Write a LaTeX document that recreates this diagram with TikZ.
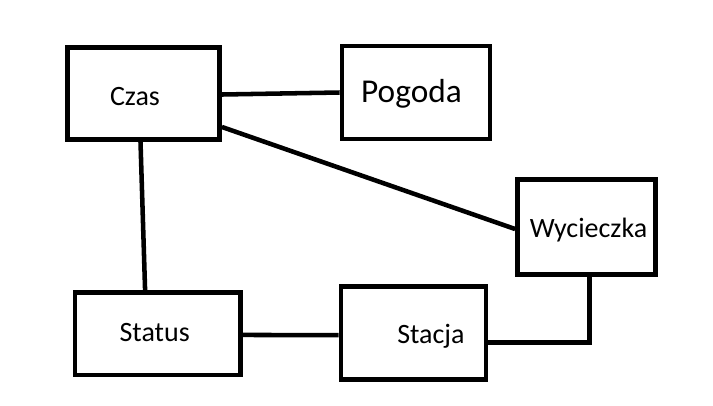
\documentclass[tikz,border=0pt]{standalone}
\usepackage{fontspec}
\setmainfont{Carlito}

\begin{document}
\begin{tikzpicture}[x=0.75pt,y=-0.75pt,
    box/.style={draw,line width=3.6pt,inner sep=0pt},
    txt/.style={font=\fontsize{21}{25}\selectfont,text height=13.5pt,text depth=0pt,inner sep=0pt},
    link/.style={line width=3.4pt}]
  \useasboundingbox (0,0) rectangle (713,405);

  \node[box,minimum width=114pt,minimum height=69pt,
        label={[txt,xshift=-6.4pt,yshift=-1.9pt]center:Czas}]           (czas)   at (143.5,93.5)  {};
  \node[box,minimum width=111pt,minimum height=69.75pt,
        label={[txt,font=\fontsize{25}{30}\selectfont,text height=16.1pt,xshift=-3.4pt,yshift=0.4pt]center:Pogoda}] (pogoda) at (416,92.5) {};
  \node[box,minimum width=103.5pt,minimum height=71.25pt,
        label={[txt,xshift=1.5pt,yshift=-1.1pt]center:Wycieczka}]      (wyc)    at (586.5,227)   {};
  \node[box,minimum width=124.1pt,minimum height=61.9pt,
        label={[txt,xshift=-2.3pt,yshift=0.75pt]center:Status}]        (status) at (157.75,333.75) {};
  \node[box,minimum width=108.75pt,minimum height=69.75pt,
        label={[txt,xshift=13.1pt,yshift=-0.75pt]center:Stacja}]       (stacja) at (413.5,333)  {};

  \draw[link] ([yshift=-0.75pt]czas.east) -- (pogoda.west);
  \draw[link] ([yshift=-25.1pt]czas.east) -- ([yshift=-1.5pt]wyc.west);
  \draw[link] ([xshift=-2.25pt]czas.south) -- ([xshift=-9.5pt]status.north);
  \draw[link] ([yshift=-0.9pt]status.east) -- ([yshift=-1.6pt]stacja.west);
  \draw[link] ([yshift=-7pt]stacja.east) -| ([xshift=2.25pt]wyc.south);
\end{tikzpicture}
\end{document}
